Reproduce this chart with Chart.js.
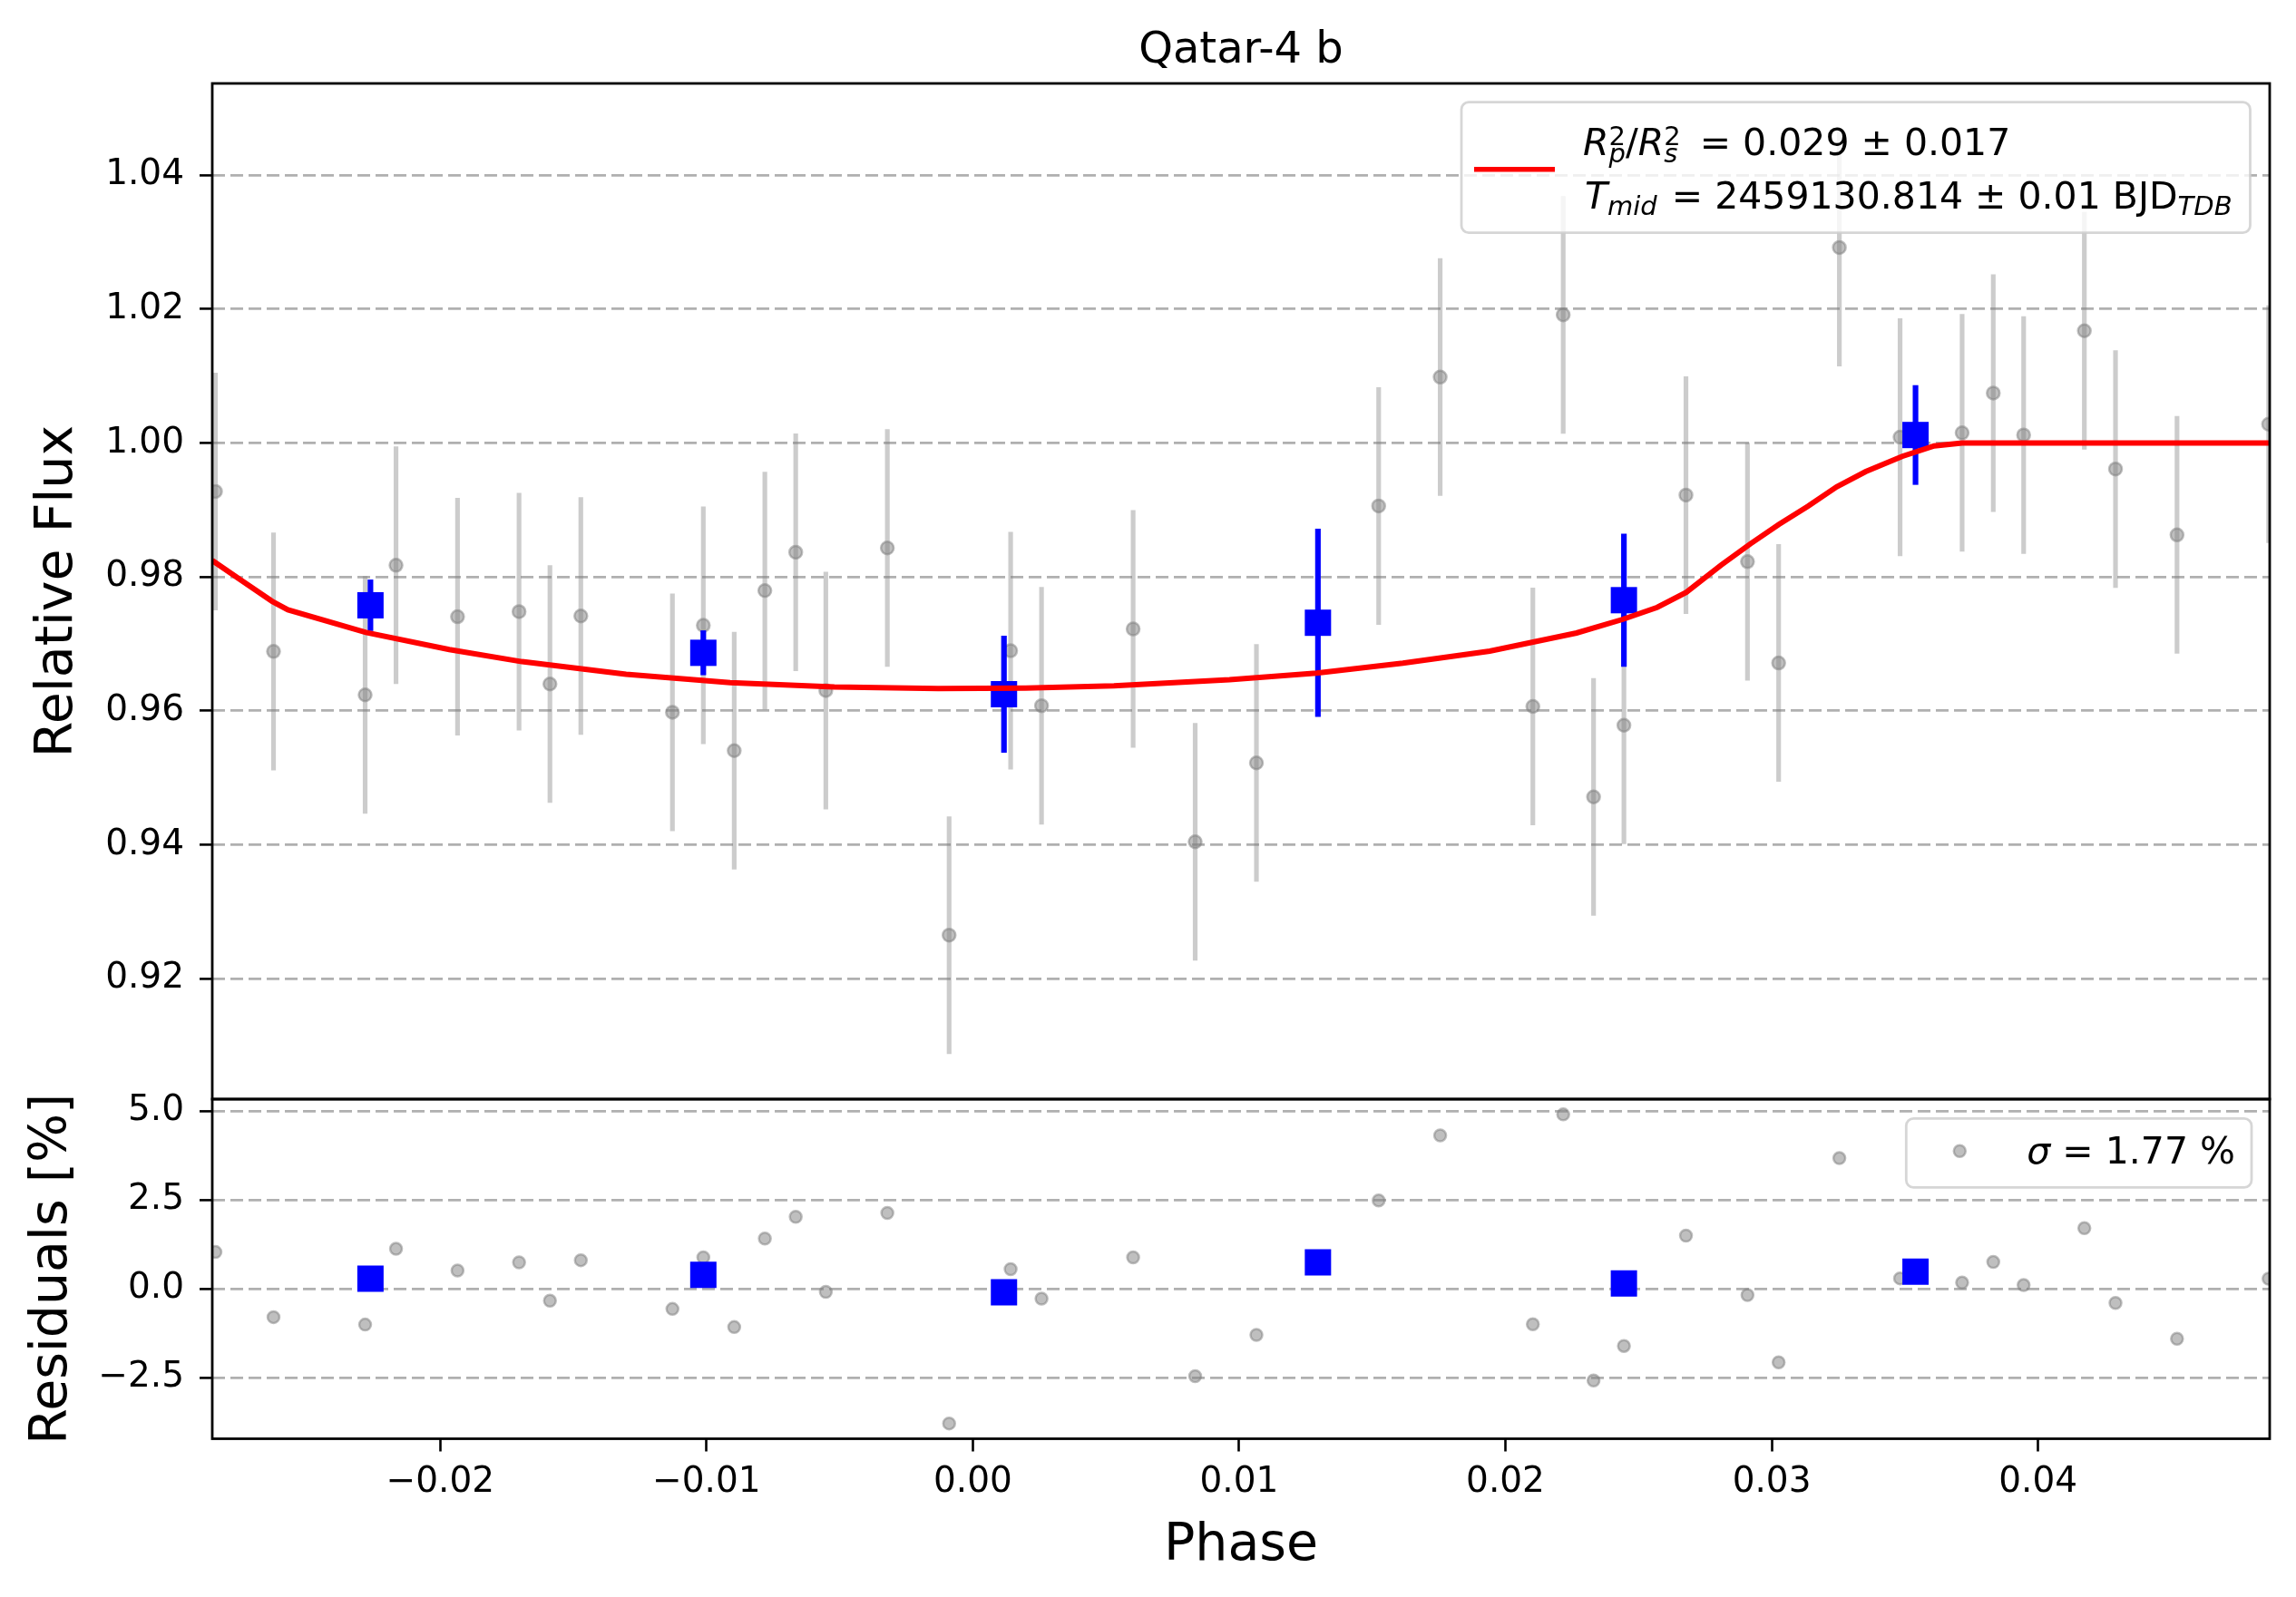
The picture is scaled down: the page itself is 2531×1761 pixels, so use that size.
<!DOCTYPE html>
<html>
<head>
<meta charset="utf-8">
<title>Qatar-4 b</title>
<script src="https://cdn.jsdelivr.net/npm/chart.js@4.4.1/dist/chart.umd.min.js"></script>
<style>
  html, body { margin: 0; padding: 0; background: #fff; }
  body { width: 2531px; height: 1761px; position: relative; overflow: hidden; }
  canvas { position: absolute; left: 0; }
  #fluxChart { top: 0; }
  #residChart { top: 1167px; }
</style>
</head>
<body>
<canvas id="fluxChart" width="2531" height="1257"></canvas>
<canvas id="residChart" width="2531" height="594"></canvas>
<script>
// unbinned light curve
const phase = [-0.02844, -0.02626, -0.02282, -0.02166, -0.01935, -0.01704, -0.01588, -0.01472, -0.01128, -0.01012,
  -0.00896, -0.00781, -0.00665, -0.00552, -0.00321, -0.00089, 0.00142, 0.00258, 0.00602, 0.00835,
  0.01065, 0.01524, 0.01755, 0.02103, 0.02217, 0.02331, 0.02445, 0.02678, 0.02909, 0.03026,
  0.03254, 0.03482, 0.03715, 0.03832, 0.03946, 0.04174, 0.04291, 0.04522, 0.04866];
const flux = [0.99276, 0.96886, 0.96238, 0.98173, 0.97405, 0.97481, 0.96400, 0.97416, 0.95978, 0.97276,
  0.95405, 0.97795, 0.98368, 0.96303, 0.98432, 0.92649, 0.96897, 0.96076, 0.97222, 0.94043,
  0.95222, 0.99059, 1.00984, 0.96065, 1.01914, 0.94714, 0.95784, 0.99222, 0.98227, 0.96714,
  1.02919, 1.00086, 1.00151, 1.00746, 1.00119, 1.01676, 0.99611, 0.98627, 1.00281];
const fluxErr = 0.0177;
const resid = [1.03, -0.80, -1.01, 1.12, 0.51, 0.74, -0.34, 0.80, -0.57, 0.88,
  -1.08, 1.41, 2.02, -0.09, 2.13, -3.79, 0.55, -0.28, 0.88, -2.46,
  -1.30, 2.48, 4.31, -1.00, 4.90, -2.58, -1.61, 1.49, -0.18, -2.07,
  3.67, 0.29, 0.17, 0.75, 0.10, 1.70, -0.40, -1.41, 0.28];

// binned points
const binPhase = [-0.02262, -0.01012, 0.00117, 0.01296, 0.02445, 0.03540];
const binFlux = [0.97576, 0.96866, 0.96248, 0.97315, 0.97652, 1.00119];
const binErr = [0.0038, 0.0033, 0.0087, 0.0140, 0.0099, 0.0074];
const binResid = [0.28, 0.39, -0.10, 0.74, 0.15, 0.48];

// transit model
const modelPhase = [-0.02856, -0.02748, -0.02631, -0.02572, -0.02279, -0.01966, -0.01693, -0.01302, -0.00911, -0.00520,
  -0.00130, 0.00198, 0.00530, 0.00964, 0.01290, 0.01615, 0.01941, 0.02267, 0.02440, 0.02570,
  0.02679, 0.02810, 0.02919, 0.03027, 0.03136, 0.03244, 0.03353, 0.03490, 0.03610, 0.03715, 0.04870];
const modelFlux = [0.98245, 0.97950, 0.97635, 0.97508, 0.97170, 0.96914, 0.96734, 0.96545, 0.96419, 0.96355,
  0.96332, 0.96338, 0.96373, 0.96464, 0.96562, 0.96711, 0.96892, 0.97162, 0.97365, 0.97545,
  0.97770, 0.98176, 0.98491, 0.98784, 0.99054, 0.99346, 0.99572, 0.99800, 0.99957, 1.00000, 1.00000];

// axis limits
const xMin = -0.02856, xMax = 0.04870;
const fluxMin = 0.9020, fluxMax = 1.0537;
const residMin = -4.22, residMax = 5.33;

const FAMILY = 'DejaVu Sans';
Chart.defaults.font.family = FAMILY;
Chart.defaults.color = '#000';

const GRAY_PT = 'rgba(128,128,128,0.5)';
const GRAY_BAR = 'rgba(128,128,128,0.4)';

const pts = (xs, ys) => xs.map((x, i) => ({ x, y: ys[i] }));
const bars = (xs, ys, e) => xs.map((x, i) => {
    const err = Array.isArray(e) ? e[i] : e;
    return { x, y: [ys[i] - err, ys[i] + err] };
});
const minusFmt = (v, d) => {
    const r = Number(v.toFixed(d));
    return (r < 0 ? '\u2212' : '') + Math.abs(r).toFixed(d);
};

const yAxis = (min, max, step, digits, title, titlePad) => ({
    type: 'linear',
    min, max,
    afterFit: s => { s.width = 234; },
    ticks: {
        stepSize: step,
        includeBounds: false,
        padding: 17,
        font: { size: 39 },
        callback: v => minusFmt(v, digits)
    },
    grid: {
        color: '#b0b0b0',
        lineWidth: 2.8,
        tickLength: 14,
        tickColor: '#000',
        tickWidth: 2.6
    },
    border: { display: false, dash: [14, 6] },
    title: {
        display: true,
        text: title,
        font: { size: 57, lineHeight: 1 },
        padding: { top: titlePad, bottom: 0 }
    }
});

// black box around the plot area
const framePlugin = {
    id: 'frame',
    afterDatasetsDraw(chart) {
        const { ctx, chartArea: a } = chart;
        ctx.save();
        ctx.strokeStyle = '#000';
        ctx.lineWidth = 2.8;
        ctx.strokeRect(a.left, a.top, a.right - a.left, a.bottom - a.top);
        ctx.restore();
    }
};

function legendBox(ctx, x, y, w, h) {
    const r = 8;
    ctx.beginPath();
    ctx.moveTo(x + r, y);
    ctx.arcTo(x + w, y, x + w, y + h, r);
    ctx.arcTo(x + w, y + h, x, y + h, r);
    ctx.arcTo(x, y + h, x, y, r);
    ctx.arcTo(x, y, x + w, y, r);
    ctx.closePath();
    ctx.fillStyle = 'rgba(255,255,255,0.8)';
    ctx.fill();
    ctx.strokeStyle = 'rgba(204,204,204,0.8)';
    ctx.lineWidth = 2.8;
    ctx.stroke();
}

// draws a row of text pieces; "stack" keeps x for a following sub/superscript
function drawRuns(ctx, x, y, runs) {
    let w = 0;
    runs.forEach(r => {
        ctx.font = r.font;
        ctx.fillText(r.t, x, y + (r.dy || 0));
        w = Math.max(w, ctx.measureText(r.t).width);
        if (!r.stack) {
            x += w + (r.gap || 0);
            w = 0;
        }
    });
}

const BIG = `41px "${FAMILY}"`;
const BIG_IT = `italic 41px "${FAMILY}"`;
const SMALL = `29px "${FAMILY}"`;
const SMALL_IT = `italic 29px "${FAMILY}"`;

const fitLegend = {
    id: 'fitLegend',
    afterDraw(chart) {
        const { ctx, chartArea: a } = chart;
        const bx = a.right - 891, by = a.top + 20.7;
        ctx.save();
        legendBox(ctx, bx, by, 869.5, 144);
        ctx.strokeStyle = '#ff0000';
        ctx.lineWidth = 5.5;
        ctx.beginPath();
        ctx.moveTo(bx + 14, by + 74);
        ctx.lineTo(bx + 103, by + 74);
        ctx.stroke();
        ctx.fillStyle = '#000';
        ctx.textBaseline = 'alphabetic';
        ctx.textAlign = 'left';
        drawRuns(ctx, bx + 134, by + 58, [
            { t: 'R', font: BIG_IT },
            { t: '2', font: SMALL, dy: -11, stack: true },
            { t: 'p', font: SMALL_IT, dy: 8 },
            { t: '/', font: BIG },
            { t: 'R', font: BIG_IT },
            { t: '2', font: SMALL, dy: -11, stack: true },
            { t: 's', font: SMALL_IT, dy: 8, gap: 8 },
            { t: ' = 0.029 \u00b1 0.017', font: BIG }
        ]);
        drawRuns(ctx, bx + 136, by + 117.3, [
            { t: 'T', font: BIG_IT },
            { t: 'mid', font: SMALL_IT, dy: 7, gap: 3 },
            { t: ' = 2459130.814 \u00b1 0.01 BJD', font: BIG },
            { t: 'TDB', font: SMALL_IT, dy: 7 }
        ]);
        ctx.restore();
    }
};

const sigmaLegend = {
    id: 'sigmaLegend',
    afterDraw(chart) {
        const { ctx, chartArea: a } = chart;
        const bx = a.right - 400.7, by = a.top + 21.3;
        ctx.save();
        legendBox(ctx, bx, by, 380.7, 76);
        ctx.beginPath();
        ctx.arc(bx + 59, by + 36, 6.5, 0, Math.PI * 2);
        ctx.fillStyle = GRAY_PT;
        ctx.fill();
        ctx.strokeStyle = GRAY_PT;
        ctx.lineWidth = 2.5;
        ctx.stroke();
        ctx.fillStyle = '#000';
        ctx.textBaseline = 'alphabetic';
        drawRuns(ctx, bx + 133, by + 50, [
            { t: '\u03c3', font: BIG_IT },
            { t: ' = 1.77 %', font: BIG }
        ]);
        ctx.restore();
    }
};

const common = {
    responsive: false,
    devicePixelRatio: 1,
    animation: false,
    events: [],
    plugins: {
        legend: { display: false },
        tooltip: { enabled: false }
    }
};

new Chart(document.getElementById('fluxChart'), {
    type: 'scatter',
    data: {
        datasets: [
            {
                type: 'line', label: 'model', data: pts(modelPhase, modelFlux),
                showLine: true, borderColor: '#ff0000', borderWidth: 6,
                pointRadius: 0, tension: 0, fill: false, order: 0, clip: 0
            },
            {
                label: 'binned', data: pts(binPhase, binFlux),
                pointStyle: 'rect', pointRadius: 20.5, backgroundColor: '#0000ff',
                borderWidth: 0, order: 1, clip: 0
            },
            {
                type: 'bar', label: 'binned err', data: bars(binPhase, binFlux, binErr),
                backgroundColor: '#0000ff', barThickness: 5.5, grouped: false,
                borderWidth: 0, order: 2, clip: 0
            },
            {
                label: 'data', data: pts(phase, flux),
                pointRadius: 7, backgroundColor: GRAY_PT, borderColor: GRAY_PT,
                borderWidth: 2.5, order: 3, clip: 0
            },
            {
                type: 'bar', label: 'data err', data: bars(phase, flux, fluxErr),
                backgroundColor: GRAY_BAR, barThickness: 4.5, grouped: false,
                borderWidth: 0, order: 4, clip: 0
            }
        ]
    },
    options: {
        ...common,
        layout: { padding: { left: 0, right: 29, top: 0, bottom: 45 } },
        scales: {
            x: { type: 'linear', min: xMin, max: xMax, offset: false, display: false },
            y: yAxis(fluxMin, fluxMax, 0.02, 2, 'Relative Flux', 36)
        },
        plugins: {
            ...common.plugins,
            title: {
                display: true,
                text: 'Qatar-4 b',
                fullSize: false,
                color: '#000',
                font: { size: 48, weight: 'normal', lineHeight: 1 },
                padding: { top: 33, bottom: 11 }
            }
        }
    },
    plugins: [framePlugin, fitLegend]
});

new Chart(document.getElementById('residChart'), {
    type: 'scatter',
    data: {
        datasets: [
            {
                label: 'binned', data: pts(binPhase, binResid),
                pointStyle: 'rect', pointRadius: 20.5, backgroundColor: '#0000ff',
                borderWidth: 0, order: 0, clip: 0
            },
            {
                label: 'residuals', data: pts(phase, resid),
                pointRadius: 6.5, backgroundColor: GRAY_PT, borderColor: GRAY_PT,
                borderWidth: 2.5, order: 1, clip: 0
            }
        ]
    },
    options: {
        ...common,
        layout: { padding: { left: 0, right: 29, top: 45, bottom: 0 } },
        scales: {
            x: {
                type: 'linear', min: xMin, max: xMax, offset: false,
                afterFit: s => { s.height = 174.5; },
                ticks: {
                    stepSize: 0.01,
                    includeBounds: false,
                    padding: 11,
                    maxRotation: 0,
                    font: { size: 39 },
                    callback: v => minusFmt(v, 2)
                },
                grid: {
                    drawOnChartArea: false,
                    tickLength: 14,
                    tickColor: '#000',
                    tickWidth: 2.6
                },
                border: { display: false },
                title: {
                    display: true,
                    text: 'Phase',
                    font: { size: 57, lineHeight: 1 },
                    padding: { top: 0, bottom: 27.5 }
                }
            },
            y: yAxis(residMin, residMax, 2.5, 1, 'Residuals [%]', 29.5)
        }
    },
    plugins: [framePlugin, sigmaLegend]
});
</script>
</body>
</html>
